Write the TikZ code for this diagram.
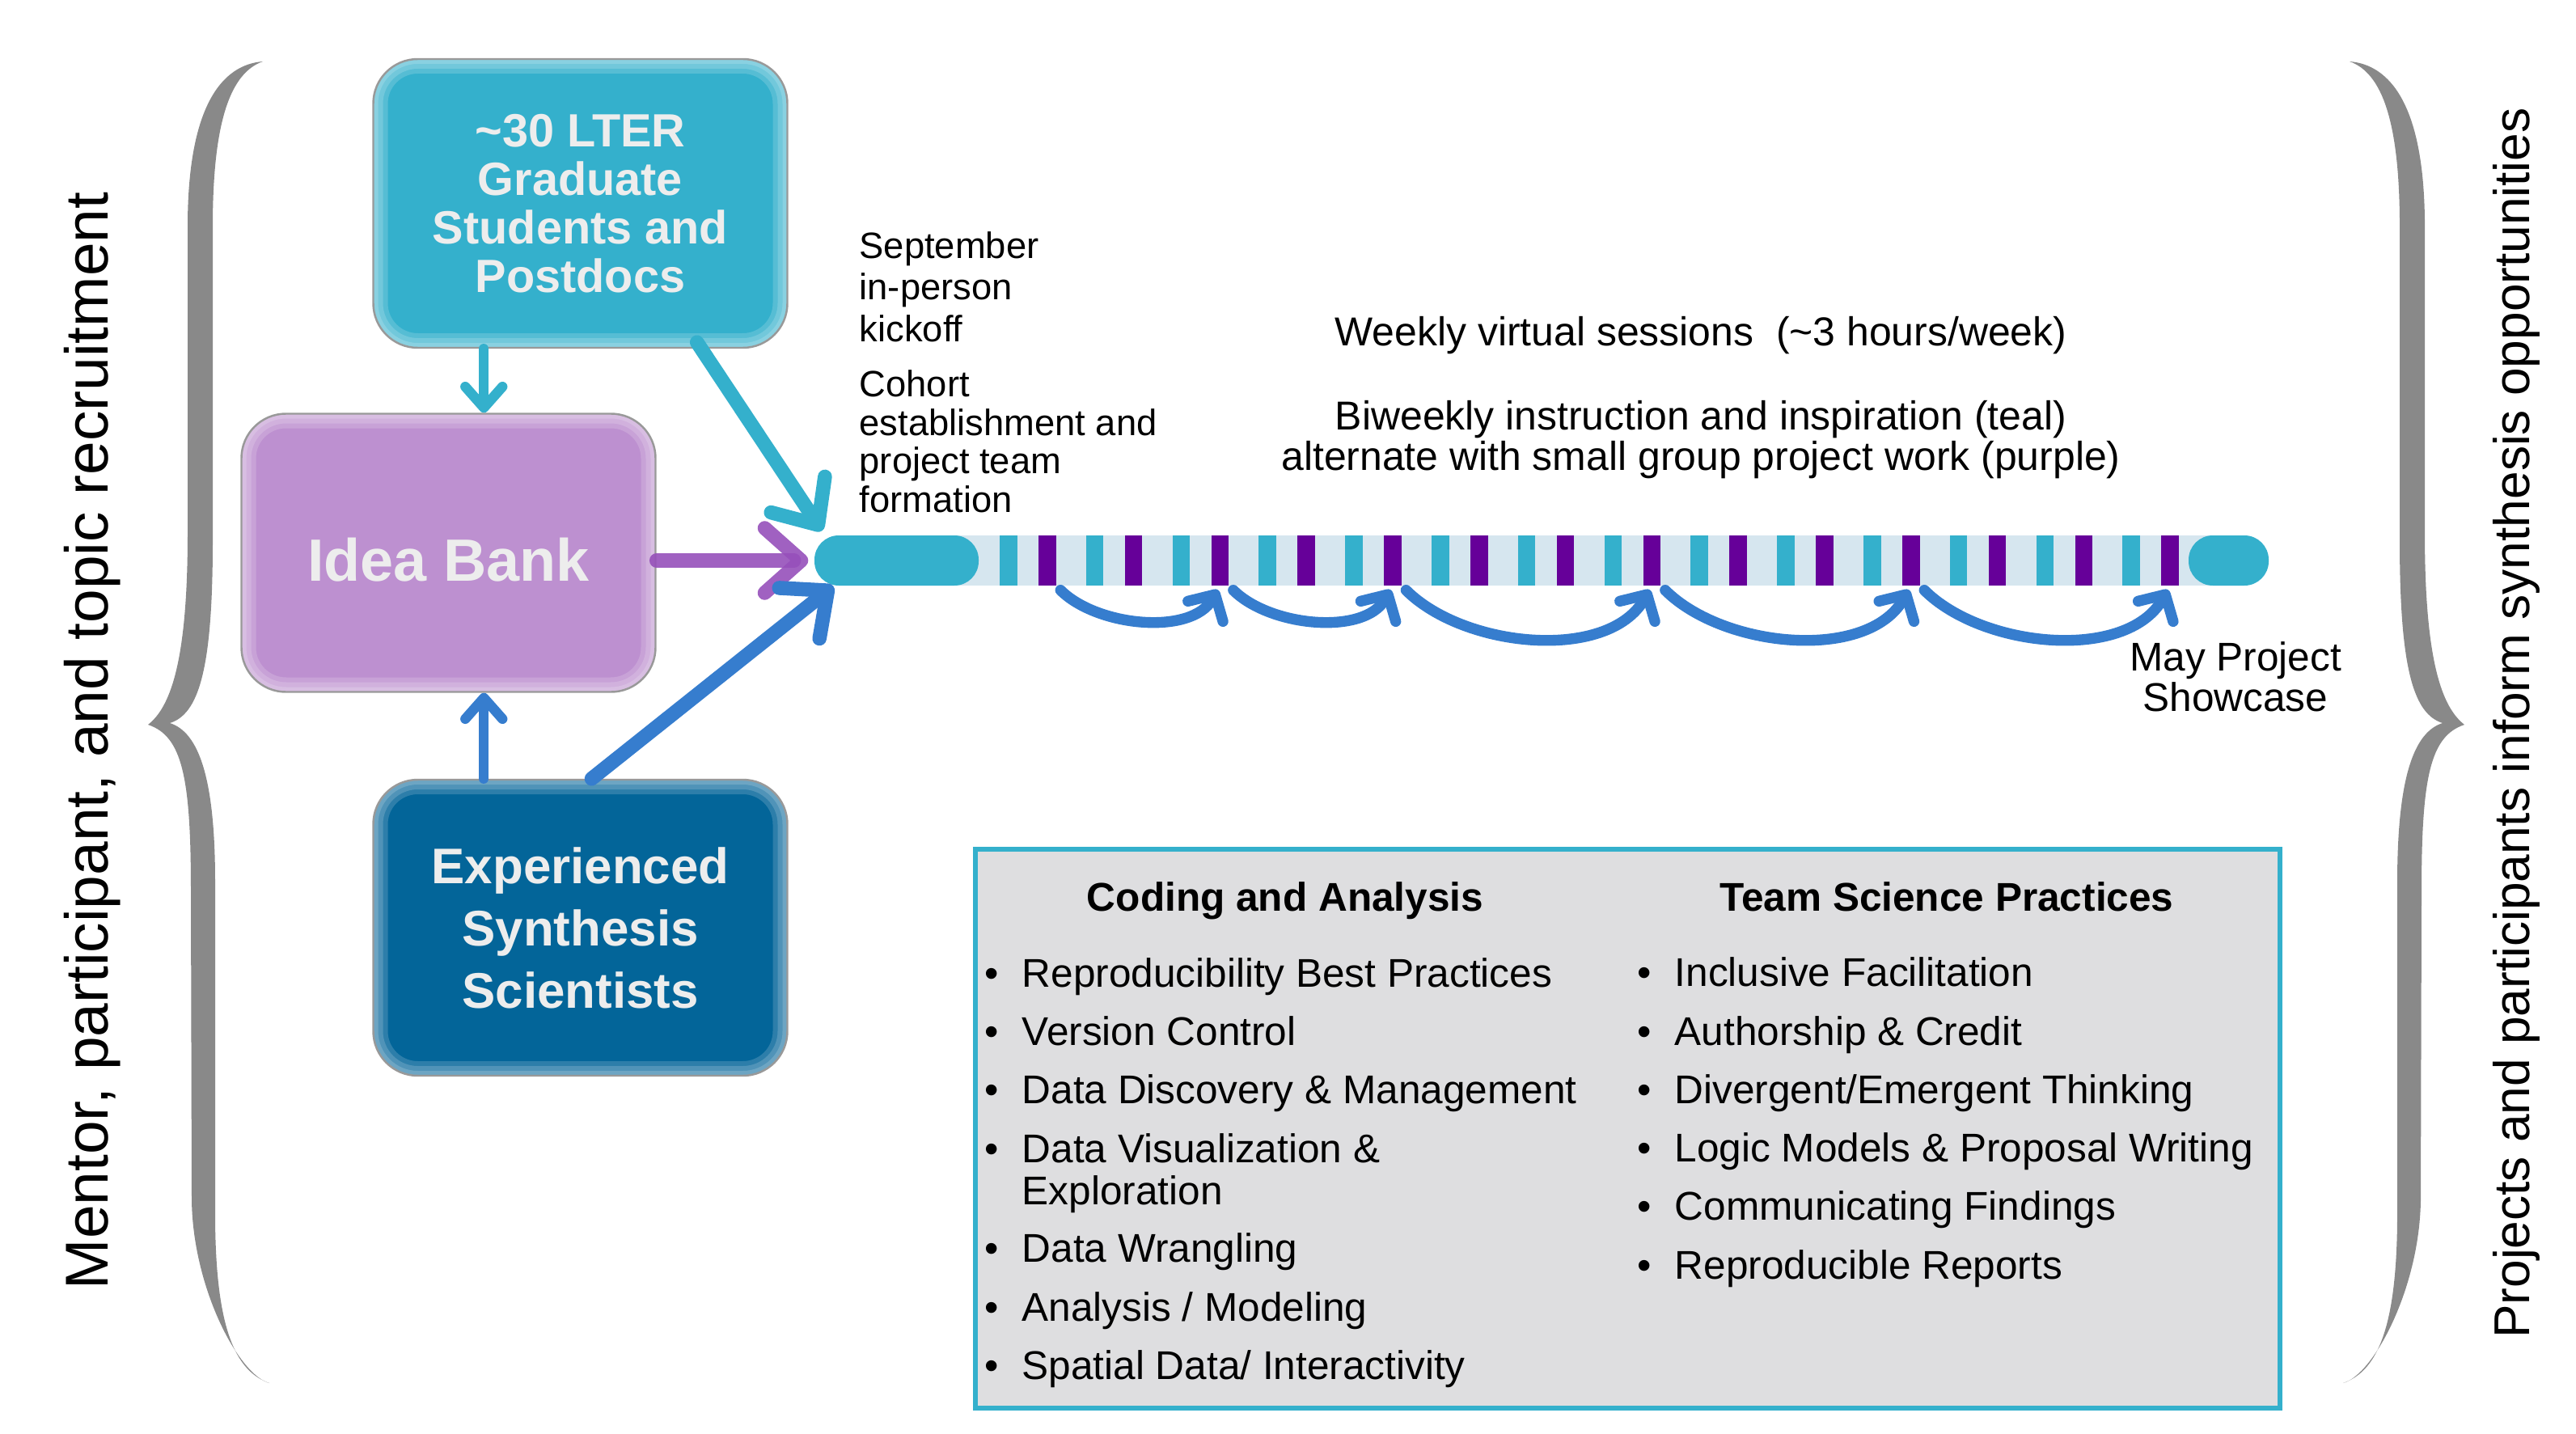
\documentclass[tikz,border=0pt]{standalone}
\usepackage{fontspec}
\setmainfont{Liberation Sans}
\usepackage{xcolor}
\usepackage{tikz}
\usetikzlibrary{arrows.meta, positioning, calc}

\definecolor{lterteal}{RGB}{52,176,204}
\definecolor{ideapurple}{RGB}{189,144,208}
\definecolor{mentorblue}{RGB}{3,101,153}
\definecolor{weekpurple}{RGB}{102,0,153}
\definecolor{barblue}{RGB}{214,230,239}
\definecolor{flowblue}{RGB}{54,125,206}
\definecolor{flowpurple}{RGB}{150,80,186}
\definecolor{bracegray}{RGB}{137,137,137}
\definecolor{panelgray}{RGB}{222,222,224}
\definecolor{boxtext}{RGB}{237,237,237}

\newcommand{\dotitem}{\makebox[0.46cm][l]{\textbullet}}

\tikzset{
    brace/.pic={
        \fill[bracegray] (0.75,-0.76) .. controls (0.25,-0.80) and (-0.18,-1.30) .. (-0.18,-2.80)
            -- (-0.18,-6.60) .. controls (-0.18,-8.20) and (-0.40,-8.75) .. (-0.67,-8.96)
            .. controls (-0.25,-9.10) and (-0.14,-9.60) .. (-0.14,-11.00)
            -- (-0.13,-14.80) .. controls (-0.13,-15.90) and (0.45,-17.00) .. (0.83,-17.10)
            .. controls (0.40,-16.95) and (0.16,-16.40) .. (0.16,-15.00)
            -- (0.16,-10.90) .. controls (0.16,-9.60) and (-0.05,-9.05) .. (-0.40,-8.94)
            .. controls (-0.05,-8.83) and (0.13,-8.30) .. (0.13,-6.70)
            -- (0.13,-2.80) .. controls (0.13,-1.50) and (0.35,-0.90) .. (0.75,-0.76) -- cycle;
    }
}

\begin{document}
\begin{tikzpicture}[
    glow/.style={path picture={
        \foreach \w in {1,2,3}
            \draw[white, opacity=0.17, line width=\w*1.2mm, rounded corners=5.5mm]
                (path picture bounding box.north west) rectangle (path picture bounding box.south east);
    }},
    group/.style={rectangle, rounded corners=5.5mm, draw=gray!80, line width=0.7pt, glow,
        minimum width=5.12cm, align=center, text=boxtext, font=\bfseries\fontsize{16.4}{17.1}\selectfont},
    endcap/.style={rectangle, rounded corners=3mm, fill=lterteal, minimum height=0.62cm, inner sep=0pt},
    stripe/.style={rectangle, minimum width=0.215cm, minimum height=0.62cm, inner sep=0pt},
    lbl/.style={inner sep=0pt, align=left, font=\fontsize{12.9}{14.6}\selectfont},
    heading/.style={anchor=base, inner sep=0pt, font=\bfseries\fontsize{14.1}{14.7}\selectfont},
    skill/.style={anchor=base west, inner sep=0pt, align=left, font=\fontsize{14.1}{14.7}\selectfont},
    feed/.style={line width=5pt, line cap=round, -{Straight Barb[length=4.5mm, width=8mm, round]}},
    drop/.style={line width=3.5pt, line cap=round, -{Straight Barb[length=2.6mm, width=4.6mm, round]}},
    hop/.style={flowblue, line width=3.8pt, line cap=round, -{Straight Barb[length=2.4mm, width=5mm, round]},
        out=-45, in=-120, looseness=0.9, shorten <=2pt, shorten >=1.5pt}
]
\useasboundingbox (0,0) rectangle (31.85,-17.73);

% Side braces
\pic at (2.50,0) {brace};
\pic[xscale=-1] at (29.80,0) {brace};
\node[rotate=90, anchor=base, inner sep=0pt, font=\fontsize{21.3}{24}\selectfont] (recruit) at (1.33,-9.16) {Mentor, participant, and topic recruitment};
\node[rotate=90, anchor=base, inner sep=0pt, font=\fontsize{17.7}{20}\selectfont] (synth) at (31.27,-8.94) {Projects and participants inform synthesis opportunities};

% Boxes
\node[group, fill=lterteal, minimum height=3.57cm] (stu) at (7.175,-2.515) {\textasciitilde30 LTER\\Graduate\\Students and\\Postdocs};
\node[group, fill=ideapurple, minimum height=3.44cm, text height=0.69cm, text depth=0pt, font=\bfseries\fontsize{21}{24}\selectfont] (idea) at (5.545,-6.835) {Idea Bank};
\node[group, fill=mentorblue, minimum height=3.66cm, font=\bfseries\fontsize{17.6}{21.9}\selectfont] (exp) at (7.175,-11.47) {Experienced\\Synthesis\\Scientists};

% Timeline
\fill[barblue] (11.0,-6.62) rectangle (27.5,-7.24);
\node[endcap, minimum width=2.03cm] (kick) at (11.085,-6.93) {};
\node[endcap, minimum width=0.99cm] (show) at (27.555,-6.93) {};
\foreach \i in {1,...,14} {
    \node[stripe, fill=lterteal] (t\i) at (11.40+1.068*\i,-6.93) {};
    \node[stripe, fill=weekpurple] (p\i) at (11.88+1.068*\i,-6.93) {};
}

% Arrows
\coordinate (stuout) at ([xshift=13.8mm]stu.south west);
\coordinate (expout) at ([xshift=13.8mm]exp.north west);
\draw[drop, lterteal] (stuout) -- (stuout |- idea.north);
\draw[drop, flowblue] (expout) -- (expout |- idea.south);
\draw[feed, lterteal] ([xshift=-11.3mm,yshift=0.8mm]stu.south east) -- ([xshift=1mm,yshift=0.5mm]kick.north west);
\draw[feed, flowpurple, opacity=0.9, shorten >=0.7mm] (idea.east |- kick.west) -- (kick.west);
\draw[feed, flowblue] ([xshift=1.4mm]exp.north) -- ([xshift=2.4mm]kick.south west);
\foreach \a/\b in {1/3, 3/5, 5/8, 8/11, 11/14}
    \draw[hop] (p\a.south east) to (p\b.south);

% Labels (base = last line)
\node[lbl, anchor=base west] (sept) at (10.62,-4.22) {September\\in-person\\kickoff};
\node[lbl, anchor=base west, font=\fontsize{12.9}{13.5}\selectfont] (cohort) at (10.62,-6.33) {Cohort\\establishment and\\project team\\formation};
\node[lbl, align=center, anchor=base, font=\fontsize{14.2}{14.2}\selectfont] (weekly) at (21.03,-4.28) {Weekly virtual sessions~~(\textasciitilde3 hours/week)};
\node[lbl, align=center, anchor=base, font=\fontsize{14.2}{14.2}\selectfont] (biweekly) at (21.03,-5.81) {Biweekly instruction and inspiration (teal)\\alternate with small group project work (purple)};
\node[lbl, align=center, anchor=base, font=\fontsize{14.1}{14.2}\selectfont] (may) at (27.64,-8.79) {May Project\\Showcase};

% Curriculum panel
\node[draw=lterteal, line width=1.7pt, fill=panelgray, minimum width=16.13cm, minimum height=6.91cm, inner sep=0pt] (panel) at (20.125,-13.955) {};
\node[heading] (codehead) at (15.89,-11.26) {Coding and Analysis};
\node[heading] (teamhead) at (24.07,-11.26) {Team Science Practices};
\foreach \y/\t [count=\i] in {12.20/Reproducibility Best Practices, 12.92/Version Control, 13.64/Data Discovery \& Management, 14.89/{Data Visualization \&\\\hspace*{0.46cm}Exploration}, 15.60/Data Wrangling, 16.33/{Analysis / Modeling}, 17.05/{Spatial Data/ Interactivity}}
    \node[skill] (code\i) at (12.17,-\y) {\dotitem\t};
\foreach \y/\t [count=\i] in {12.19/Inclusive Facilitation, 12.92/Authorship \& Credit, 13.64/{Divergent/Emergent Thinking}, 14.36/Logic Models \& Proposal Writing, 15.08/Communicating Findings, 15.81/Reproducible Reports}
    \node[skill] (team\i) at (20.24,-\y) {\dotitem\t};

\end{tikzpicture}
\end{document}
